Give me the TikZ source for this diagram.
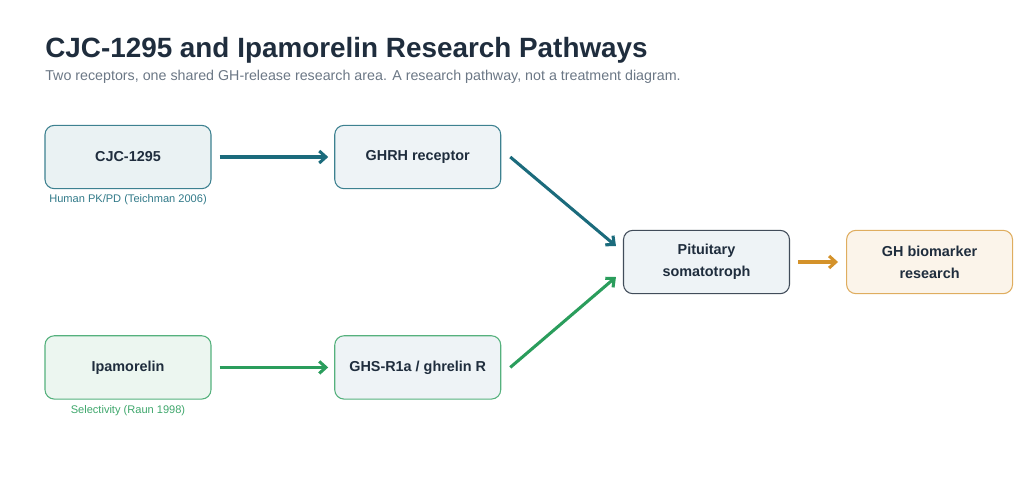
\documentclass[tikz,border=0pt]{standalone}
\usepackage{fontspec}
\setmainfont{Liberation Sans}
\usetikzlibrary{arrows.meta,positioning,calc}

\definecolor{inkdark}{HTML}{1F2D3D}
\definecolor{inkgray}{HTML}{6B7785}
\definecolor{tealc}{HTML}{1B6B7C}
\definecolor{greenc}{HTML}{2A9D5C}
\definecolor{goldc}{HTML}{D4922A}
\definecolor{paleblue}{HTML}{EEF3F6}

\begin{document}
\begin{tikzpicture}[x=0.75pt, y=-0.75pt, font=\fontsize{10.5}{13}\selectfont, node distance=92pt,
  lcell/.style={draw, rounded corners=7pt, line width=0.8pt, align=center, text=inkdark,
    font=\fontsize{10.8}{16.5}\selectfont\bfseries, minimum width=124.5pt, minimum height=47.5pt},
  cite/.style={font=\fontsize{8.3}{10}\selectfont, inner sep=1pt},
  a/.style={line width=2.3pt, -{Straight Barb[length=5pt, width=9pt, line width=2.3pt]}}]
  \useasboundingbox (0,0) rectangle (1024,501);
  % heading
  \node[anchor=base west, inner sep=0pt, text=inkdark, font=\fontsize{20.9}{24}\selectfont\bfseries]
    (title) at (45,57) {CJC-1295 and Ipamorelin Research Pathways};
  \node[anchor=base west, inner sep=0pt, text=inkgray, font=\fontsize{10.7}{12}\selectfont]
    (sub) at (45,80) {Two receptors, one shared GH-release research area. A research pathway, not a treatment diagram.};
  % boxes
  \node[lcell, draw=tealc!85, fill=tealc!9] (cjc) at (128,157) {CJC-1295};
  \node[lcell, draw=tealc!85, fill=paleblue, right=of cjc] (ghrh) {GHRH receptor};
  \node[lcell, draw=greenc!80, fill=greenc!9, below=109.5pt of cjc] (ipa) {Ipamorelin};
  \node[lcell, draw=greenc!80, fill=paleblue, right=of ipa] (ghs) {GHS-R1a / ghrelin R};
  \node[lcell, draw=inkdark!85, fill=paleblue] (pit) at (706.5,262) {Pituitary\\somatotroph};
  \node[lcell, draw=goldc!75, fill=goldc!10, right=42pt of pit] (gh) {GH biomarker\\research};
  \node[cite, text=tealc!90, below=3pt of cjc] (c1) {Human PK/PD (Teichman 2006)};
  \node[cite, text=greenc!90, below=3pt of ipa] (c2) {Selectivity (Raun 1998)};
  % arrows
  \draw[a, tealc, shorten <=6pt, shorten >=4.5pt] (cjc) -- (ghrh);
  \draw[a, greenc, shorten <=6pt, shorten >=4.5pt] (ipa) -- (ghs);
  \draw[a, goldc, shorten <=6pt, shorten >=6pt] (pit) -- (gh);
  \draw[a, tealc] ($(ghrh.east)+(9,0)$) -- ($(pit.west)+(-7,-16)$);
  \draw[a, greenc] ($(ghs.east)+(9,0)$) -- ($(pit.west)+(-7,15)$);
\end{tikzpicture}
\end{document}
